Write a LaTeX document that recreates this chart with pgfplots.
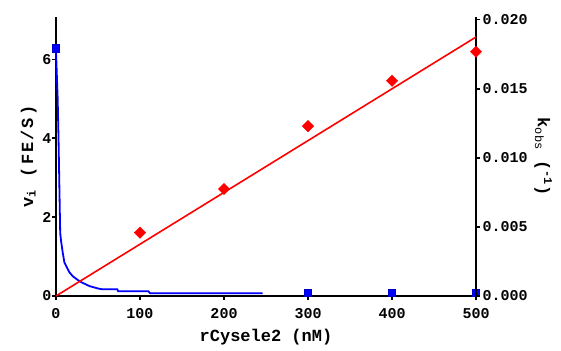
\documentclass[border=0pt]{standalone}
\usepackage{pgfplots}
\pgfplotsset{compat=1.18}
\usepackage{fontspec}
\setmainfont{Liberation Mono}
\begin{document}
\begin{tikzpicture}
\pgfplotsset{every axis/.append style={scale only axis, width=420pt, height=279pt,
  xmin=0, xmax=500, clip=false,
  axis line style={line width=1.8pt, black},
  tick style={line width=1.4pt, black}, tick align=outside, major tick length=4pt,
  /pgf/number format/assume math mode=true,
  tick label style={font=\bfseries\fontsize{15}{16}\selectfont},
  label style={font=\bfseries\fontsize{17}{18}\selectfont}}}
\begin{axis}[axis x line*=bottom, axis y line*=left,
  ymin=0, ymax=7.07, ytick={0,2,4,6}, xtick={0,100,200,300,400,500},
  xticklabel style={yshift=-5pt},
  yticklabel style={xshift=3pt},
  xlabel={rCysele2 (nM)},
  ylabel={\addfontfeatures{LetterSpace=12}v\textsubscript{i} (FE/S)},
  xlabel style={yshift=-4pt}, ylabel style={yshift=-1pt}]
\addplot[blue, line width=1.8pt, mark=none] coordinates {
(0,6.2) (1,5.6) (2,5.0) (3,4.0) (4,2.8) (5,1.6) (6,1.4) (8,1.1) (10,0.85) (13,0.72)
(16,0.6) (20,0.5) (25,0.42) (30,0.35) (35,0.3) (40,0.25) (50,0.19) (55,0.17) (73,0.17)
(74,0.12) (110,0.12) (112,0.07) (246,0.07)};
\addplot[only marks, mark=square*, mark size=3.6pt, color=blue!80!black, fill=blue] coordinates {
(0,6.28) (300,0.08) (400,0.08) (500,0.08)};
\end{axis}
\begin{axis}[axis y line*=right, axis x line=none,
  ymin=0, ymax=0.0202, ytick={0,0.005,0.01,0.015,0.02}, scaled y ticks=false,
  yticklabel style={xshift=-1pt, /pgf/number format/.cd, fixed, fixed zerofill, precision=3},
  ylabel={k\textsubscript{\normalfont\fontsize{12}{12}\selectfont obs} (\textsuperscript{-1})},
  ylabel style={rotate=180, yshift=0pt}]
\addplot[red, line width=1.6pt, mark=none] coordinates {(0,0) (500,0.01875)};
\addplot[only marks, mark=square*, mark size=4pt, mark options={rotate=45}, red] coordinates {
(100,0.00459) (200,0.00775) (300,0.0123) (400,0.01558) (500,0.01768)};
\end{axis}
\path (-56pt,-54pt) rectangle (505pt,296pt);
\end{tikzpicture}
\end{document}
